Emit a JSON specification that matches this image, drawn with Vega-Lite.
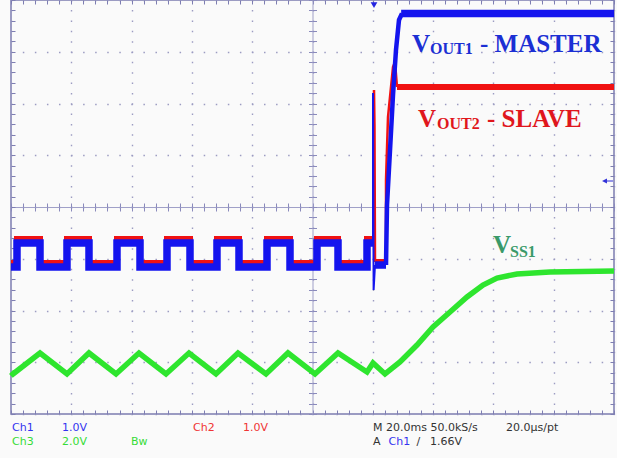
{
  "$schema": "https://vega.github.io/schema/vega-lite/v6.json",
  "width": 603,
  "height": 414,
  "autosize": {"type": "none"},
  "padding": {"left": 11, "top": 0, "right": 3, "bottom": 44},
  "background": "#fafafa",
  "config": {
    "view": {"stroke": "#7c7cb0", "strokeWidth": 1.5, "fill": "#fafafa"},
    "axis": {"labels": false, "title": null, "domain": false, "ticks": false, "grid": false},
    "text": {"align": "left", "baseline": "alphabetic"}
  },
  "datasets": {
    "ch1": [
      {"t": 0, "v": -1.159, "part": "sq"},
      {"t": 1.99, "v": -1.159, "part": "sq"},
      {"t": 1.99, "v": -0.696, "part": "sq"},
      {"t": 9.62, "v": -0.696, "part": "sq"},
      {"t": 9.62, "v": -1.159, "part": "sq"},
      {"t": 18.57, "v": -1.159, "part": "sq"},
      {"t": 18.57, "v": -0.696, "part": "sq"},
      {"t": 25.87, "v": -0.696, "part": "sq"},
      {"t": 25.87, "v": -1.159, "part": "sq"},
      {"t": 35.16, "v": -1.159, "part": "sq"},
      {"t": 35.16, "v": -0.696, "part": "sq"},
      {"t": 42.79, "v": -0.696, "part": "sq"},
      {"t": 42.79, "v": -1.159, "part": "sq"},
      {"t": 51.74, "v": -1.159, "part": "sq"},
      {"t": 51.74, "v": -0.696, "part": "sq"},
      {"t": 59.37, "v": -0.696, "part": "sq"},
      {"t": 59.37, "v": -1.159, "part": "sq"},
      {"t": 68.32, "v": -1.159, "part": "sq"},
      {"t": 68.32, "v": -0.696, "part": "sq"},
      {"t": 75.62, "v": -0.696, "part": "sq"},
      {"t": 75.62, "v": -1.159, "part": "sq"},
      {"t": 84.91, "v": -1.159, "part": "sq"},
      {"t": 84.91, "v": -0.696, "part": "sq"},
      {"t": 92.54, "v": -0.696, "part": "sq"},
      {"t": 92.54, "v": -1.159, "part": "sq"},
      {"t": 101.49, "v": -1.159, "part": "sq"},
      {"t": 101.49, "v": -0.696, "part": "sq"},
      {"t": 108.46, "v": -0.696, "part": "sq"},
      {"t": 108.46, "v": -1.159, "part": "sq"},
      {"t": 118.08, "v": -1.159, "part": "sq"},
      {"t": 118.08, "v": -0.696, "part": "sq"},
      {"t": 120.07, "v": -0.696, "part": "sq"},
      {"t": 120.07, "v": -0.696, "part": "spike"},
      {"t": 120.07, "v": 2.203, "part": "spike"},
      {"t": 120.27, "v": -1.604, "part": "spike"},
      {"t": 120.73, "v": -1.121, "part": "spike"},
      {"t": 120.73, "v": -1.121, "part": "low"},
      {"t": 124.38, "v": -1.121, "part": "low"},
      {"t": 124.38, "v": -1.121, "part": "rise"},
      {"t": 124.71, "v": 0.039, "part": "rise"},
      {"t": 125.71, "v": 1.101, "part": "rise"},
      {"t": 126.7, "v": 2.164, "part": "rise"},
      {"t": 127.69, "v": 3.034, "part": "rise"},
      {"t": 128.69, "v": 3.614, "part": "rise"},
      {"t": 129.69, "v": 3.739, "part": "rise"},
      {"t": 129.4, "v": 3.739, "part": "hi"},
      {"t": 200, "v": 3.739, "part": "hi"}
    ],
    "ch2": [
      {"t": 0, "v": -1.082, "part": "sq"},
      {"t": 1.99, "v": -1.082, "part": "sq"},
      {"t": 1.99, "v": -0.618, "part": "sq"},
      {"t": 9.62, "v": -0.618, "part": "sq"},
      {"t": 9.62, "v": -1.082, "part": "sq"},
      {"t": 18.57, "v": -1.082, "part": "sq"},
      {"t": 18.57, "v": -0.618, "part": "sq"},
      {"t": 25.87, "v": -0.618, "part": "sq"},
      {"t": 25.87, "v": -1.082, "part": "sq"},
      {"t": 35.16, "v": -1.082, "part": "sq"},
      {"t": 35.16, "v": -0.618, "part": "sq"},
      {"t": 42.79, "v": -0.618, "part": "sq"},
      {"t": 42.79, "v": -1.082, "part": "sq"},
      {"t": 51.74, "v": -1.082, "part": "sq"},
      {"t": 51.74, "v": -0.618, "part": "sq"},
      {"t": 59.37, "v": -0.618, "part": "sq"},
      {"t": 59.37, "v": -1.082, "part": "sq"},
      {"t": 68.32, "v": -1.082, "part": "sq"},
      {"t": 68.32, "v": -0.618, "part": "sq"},
      {"t": 75.62, "v": -0.618, "part": "sq"},
      {"t": 75.62, "v": -1.082, "part": "sq"},
      {"t": 84.91, "v": -1.082, "part": "sq"},
      {"t": 84.91, "v": -0.618, "part": "sq"},
      {"t": 92.54, "v": -0.618, "part": "sq"},
      {"t": 92.54, "v": -1.082, "part": "sq"},
      {"t": 101.49, "v": -1.082, "part": "sq"},
      {"t": 101.49, "v": -0.618, "part": "sq"},
      {"t": 108.46, "v": -0.618, "part": "sq"},
      {"t": 108.46, "v": -1.082, "part": "sq"},
      {"t": 118.08, "v": -1.082, "part": "sq"},
      {"t": 118.08, "v": -0.618, "part": "sq"},
      {"t": 120.4, "v": -0.618, "part": "sq"},
      {"t": 120.4, "v": -0.618, "part": "spike"},
      {"t": 120.4, "v": 2.261, "part": "spike"},
      {"t": 120.56, "v": 1.585, "part": "spike"},
      {"t": 120.73, "v": -1.063, "part": "spike"},
      {"t": 120.73, "v": -1.063, "part": "low"},
      {"t": 124.38, "v": -1.063, "part": "low"},
      {"t": 124.38, "v": -1.063, "part": "rise"},
      {"t": 124.38, "v": 0.522, "part": "rise"},
      {"t": 125.04, "v": 1.739, "part": "rise"},
      {"t": 126.7, "v": 2.705, "part": "rise"},
      {"t": 127.36, "v": 2.802, "part": "rise"},
      {"t": 128.03, "v": 2.319, "part": "rise"},
      {"t": 128.03, "v": 2.319, "part": "hi"},
      {"t": 200, "v": 2.319, "part": "hi"}
    ],
    "ch3": [
      {"t": 0, "v": -3.188},
      {"t": 0.66, "v": -3.227},
      {"t": 9.62, "v": -2.821},
      {"t": 18.57, "v": -3.227},
      {"t": 25.87, "v": -2.821},
      {"t": 34.83, "v": -3.227},
      {"t": 42.45, "v": -2.821},
      {"t": 51.41, "v": -3.227},
      {"t": 59.04, "v": -2.821},
      {"t": 67.99, "v": -3.227},
      {"t": 75.29, "v": -2.821},
      {"t": 84.58, "v": -3.227},
      {"t": 91.87, "v": -2.821},
      {"t": 100.83, "v": -3.227},
      {"t": 108.46, "v": -2.821},
      {"t": 118.08, "v": -3.188},
      {"t": 120.07, "v": -3.014},
      {"t": 124.05, "v": -3.227},
      {"t": 129.02, "v": -2.995},
      {"t": 134.66, "v": -2.667},
      {"t": 139.97, "v": -2.319},
      {"t": 145.61, "v": -2.029},
      {"t": 151.24, "v": -1.739},
      {"t": 156.55, "v": -1.507},
      {"t": 161.19, "v": -1.372},
      {"t": 167.83, "v": -1.295},
      {"t": 178.77, "v": -1.256},
      {"t": 200, "v": -1.237}
    ],
    "big": [
      {"t": 133.0, "v": 2.995, "txt": "V", "c": "out1"},
      {"t": 155.55, "v": 2.995, "txt": "- MASTER", "c": "out1"},
      {"t": 134.99, "v": 1.546, "txt": "V", "c": "out2"},
      {"t": 157.87, "v": 1.546, "txt": "- SLAVE", "c": "out2"},
      {"t": 159.86, "v": -0.889, "txt": "V", "c": "ss1"}
    ],
    "sub": [
      {"t": 138.97, "v": 2.957, "txt": "OUT1", "c": "out1"},
      {"t": 141.29, "v": 1.507, "txt": "OUT2", "c": "out2"},
      {"t": 165.5, "v": -0.966, "txt": "SS1", "c": "ss1"}
    ],
    "info": [
      {"t": 0.33, "v": -4.329, "txt": "Ch1", "c": "b"},
      {"t": 16.92, "v": -4.329, "txt": "1.0V", "c": "b"},
      {"t": 60.36, "v": -4.329, "txt": "Ch2", "c": "r"},
      {"t": 76.95, "v": -4.329, "txt": "1.0V", "c": "r"},
      {"t": 120.07, "v": -4.329, "txt": "M 20.0ms 50.0kS/s", "c": "k"},
      {"t": 164.18, "v": -4.329, "txt": "20.0µs/pt", "c": "k"},
      {"t": 0.33, "v": -4.599, "txt": "Ch3", "c": "g"},
      {"t": 16.92, "v": -4.599, "txt": "2.0V", "c": "g"},
      {"t": 39.8, "v": -4.599, "txt": "Bw", "c": "g"},
      {"t": 120.07, "v": -4.599, "txt": "A", "c": "k"},
      {"t": 125.2, "v": -4.599, "txt": "Ch1", "c": "b"},
      {"t": 134.5, "v": -4.599, "txt": "/", "c": "k"},
      {"t": 139.0, "v": -4.599, "txt": "1.66V", "c": "k"}
    ]
  },
  "resolve": {"axis": {"x": "independent", "y": "independent"}, "scale": {"color": "independent"}},
  "layer": [
    {
      "data": {"name": "ch2"},
      "transform": [{"filter": {"field": "part", "oneOf": ["sq", "low", "hi"]}}],
      "mark": {"type": "line", "color": "#f01212", "strokeWidth": 6, "strokeJoin": "miter"},
      "encoding": {
        "x": {"field": "t", "type": "quantitative", "scale": {"domain": [0, 200], "nice": false, "zero": false},
              "axis": {"orient": "bottom", "grid": true, "values": [0, 20, 40, 60, 80, 100, 120, 140, 160, 180, 200], "gridColor": "#9c9cc2", "gridDash": [1.5, 8.85], "gridDashOffset": 0.75, "gridWidth": 1.4, "gridOpacity": 1}},
        "y": {"field": "v", "type": "quantitative", "scale": {"domain": [-4, 4], "nice": false, "zero": false},
              "axis": {"orient": "left", "grid": true, "values": [-4, -3, -2, -1, 0, 1, 2, 3, 4], "gridColor": "#9c9cc2", "gridDash": [1.5, 10.56], "gridDashOffset": 0.75, "gridWidth": 1.4, "gridOpacity": 1}},
        "detail": {"field": "part"},
        "order": {"value": null}
      }
    },
    {
      "data": {"name": "ch2"},
      "transform": [{"filter": {"field": "part", "oneOf": ["spike", "rise"]}}],
      "mark": {"type": "line", "color": "#f01212", "strokeWidth": 2.5},
      "encoding": {
        "x": {"field": "t", "type": "quantitative", "scale": {"domain": [0, 200], "nice": false, "zero": false},
              "axis": {"orient": "bottom", "ticks": true, "tickSize": -4, "tickColor": "#7e7eb2", "tickWidth": 1,
                       "values": [0,4,8,12,16,20,24,28,32,36,40,44,48,52,56,60,64,68,72,76,80,84,88,92,96,100,104,108,112,116,120,124,128,132,136,140,144,148,152,156,160,164,168,172,176,180,184,188,192,196,200]}},
        "y": {"field": "v", "type": "quantitative", "scale": {"domain": [-4, 4], "nice": false, "zero": false},
              "axis": {"orient": "left", "ticks": true, "tickSize": -4, "tickColor": "#7e7eb2", "tickWidth": 1,
                       "values": [-4,-3.8,-3.6,-3.4,-3.2,-3,-2.8,-2.6,-2.4,-2.2,-2,-1.8,-1.6,-1.4,-1.2,-1,-0.8,-0.6,-0.4,-0.2,0,0.2,0.4,0.6,0.8,1,1.2,1.4,1.6,1.8,2,2.2,2.4,2.6,2.8,3,3.2,3.4,3.6,3.8,4]}},
        "detail": {"field": "part"},
        "order": {"value": null}
      }
    },
    {
      "data": {"name": "ch1"},
      "transform": [{"filter": {"field": "part", "oneOf": ["sq", "low", "hi"]}}],
      "mark": {"type": "line", "color": "#1414ee", "strokeWidth": 7.5, "strokeJoin": "miter"},
      "encoding": {
        "x": {"field": "t", "type": "quantitative", "scale": {"domain": [0, 200], "nice": false, "zero": false},
              "axis": {"orient": "top", "ticks": true, "tickSize": -4, "tickColor": "#7e7eb2", "tickWidth": 1,
                       "values": [0,4,8,12,16,20,24,28,32,36,40,44,48,52,56,60,64,68,72,76,80,84,88,92,96,100,104,108,112,116,120,124,128,132,136,140,144,148,152,156,160,164,168,172,176,180,184,188,192,196,200]}},
        "y": {"field": "v", "type": "quantitative", "scale": {"domain": [-4, 4], "nice": false, "zero": false},
              "axis": {"orient": "right", "ticks": true, "tickSize": -4, "tickColor": "#7e7eb2", "tickWidth": 1,
                       "values": [-4,-3.8,-3.6,-3.4,-3.2,-3,-2.8,-2.6,-2.4,-2.2,-2,-1.8,-1.6,-1.4,-1.2,-1,-0.8,-0.6,-0.4,-0.2,0,0.2,0.4,0.6,0.8,1,1.2,1.4,1.6,1.8,2,2.2,2.4,2.6,2.8,3,3.2,3.4,3.6,3.8,4]}},
        "detail": {"field": "part"},
        "order": {"value": null}
      }
    },
    {
      "data": {"name": "ch1"},
      "transform": [{"filter": {"field": "part", "equal": "spike"}}],
      "mark": {"type": "line", "color": "#1414ee", "strokeWidth": 2},
      "encoding": {
        "x": {"field": "t", "type": "quantitative", "scale": {"domain": [0, 200], "nice": false, "zero": false},
              "axis": {"orient": "bottom", "offset": -207, "domain": true, "domainColor": "#a0a0c8", "domainWidth": 1, "ticks": true, "tickSize": 4, "tickColor": "#8a8abc", "tickWidth": 1,
                       "values": [0,4,8,12,16,20,24,28,32,36,40,44,48,52,56,60,64,68,72,76,80,84,88,92,96,100,104,108,112,116,120,124,128,132,136,140,144,148,152,156,160,164,168,172,176,180,184,188,192,196,200]}},
        "y": {"field": "v", "type": "quantitative", "scale": {"domain": [-4, 4], "nice": false, "zero": false},
              "axis": {"orient": "left", "offset": -301.5, "domain": true, "domainColor": "#a0a0c8", "domainWidth": 1, "ticks": true, "tickSize": 4, "tickColor": "#8a8abc", "tickWidth": 1,
                       "values": [-4,-3.8,-3.6,-3.4,-3.2,-3,-2.8,-2.6,-2.4,-2.2,-2,-1.8,-1.6,-1.4,-1.2,-1,-0.8,-0.6,-0.4,-0.2,0,0.2,0.4,0.6,0.8,1,1.2,1.4,1.6,1.8,2,2.2,2.4,2.6,2.8,3,3.2,3.4,3.6,3.8,4]}},
        "order": {"value": null}
      }
    },
    {
      "data": {"name": "ch1"},
      "transform": [{"filter": {"field": "part", "equal": "rise"}}],
      "mark": {"type": "line", "color": "#1414ee", "strokeWidth": 4.5},
      "encoding": {
        "x": {"field": "t", "type": "quantitative", "scale": {"domain": [0, 200], "nice": false, "zero": false},
              "axis": {"orient": "top", "offset": -207, "ticks": true, "tickSize": 4, "tickColor": "#8a8abc", "tickWidth": 1,
                       "values": [0,4,8,12,16,20,24,28,32,36,40,44,48,52,56,60,64,68,72,76,80,84,88,92,96,100,104,108,112,116,120,124,128,132,136,140,144,148,152,156,160,164,168,172,176,180,184,188,192,196,200]}},
        "y": {"field": "v", "type": "quantitative", "scale": {"domain": [-4, 4], "nice": false, "zero": false},
              "axis": {"orient": "right", "offset": -301.5, "ticks": true, "tickSize": 4, "tickColor": "#8a8abc", "tickWidth": 1,
                       "values": [-4,-3.8,-3.6,-3.4,-3.2,-3,-2.8,-2.6,-2.4,-2.2,-2,-1.8,-1.6,-1.4,-1.2,-1,-0.8,-0.6,-0.4,-0.2,0,0.2,0.4,0.6,0.8,1,1.2,1.4,1.6,1.8,2,2.2,2.4,2.6,2.8,3,3.2,3.4,3.6,3.8,4]}},
        "order": {"value": null}
      }
    },
    {
      "data": {"name": "ch3"},
      "mark": {"type": "line", "color": "#2ee52e", "strokeWidth": 5.5},
      "encoding": {
        "x": {"field": "t", "type": "quantitative", "scale": {"domain": [0, 200], "nice": false, "zero": false}, "axis": null},
        "y": {"field": "v", "type": "quantitative", "scale": {"domain": [-4, 4], "nice": false, "zero": false}, "axis": null},
        "order": {"value": null}
      }
    },
    {
      "data": {"values": [{"t": 120.4, "v": 3.9}]},
      "mark": {"type": "point", "shape": "triangle-down", "filled": true, "size": 45, "color": "#2424e0", "opacity": 1},
      "encoding": {
        "x": {"field": "t", "type": "quantitative", "scale": {"domain": [0, 200], "nice": false, "zero": false}, "axis": null},
        "y": {"field": "v", "type": "quantitative", "scale": {"domain": [-4, 4], "nice": false, "zero": false}, "axis": null}
      }
    },
    {
      "data": {"values": [{"t": 197.85, "v": 0.502}]},
      "mark": {"type": "point", "shape": "M -1 0 L -0.1 -0.45 L -0.1 0.45 Z M -0.1 -0.09 L 1 -0.09 L 1 0.09 L -0.1 0.09 Z", "filled": true, "size": 121, "color": "#3030d8", "opacity": 1},
      "encoding": {
        "x": {"field": "t", "type": "quantitative", "scale": {"domain": [0, 200], "nice": false, "zero": false}, "axis": null},
        "y": {"field": "v", "type": "quantitative", "scale": {"domain": [-4, 4], "nice": false, "zero": false}, "axis": null}
      }
    },
    {
      "data": {"name": "big"},
      "mark": {"type": "text", "font": "Liberation Serif", "fontWeight": "bold", "fontSize": 25, "align": "left", "baseline": "alphabetic"},
      "encoding": {
        "x": {"field": "t", "type": "quantitative", "scale": {"domain": [0, 200], "nice": false, "zero": false}, "axis": null},
        "y": {"field": "v", "type": "quantitative", "scale": {"domain": [-4, 4], "nice": false, "zero": false}, "axis": null},
        "text": {"field": "txt"},
        "color": {"field": "c", "type": "nominal", "scale": {"domain": ["out1", "out2", "ss1"], "range": ["#1b2fd4", "#e0161c", "#3a9a6a"]}, "legend": null}
      }
    },
    {
      "data": {"name": "sub"},
      "mark": {"type": "text", "font": "Liberation Serif", "fontWeight": "bold", "fontSize": 16, "align": "left", "baseline": "alphabetic"},
      "encoding": {
        "x": {"field": "t", "type": "quantitative", "scale": {"domain": [0, 200], "nice": false, "zero": false}, "axis": null},
        "y": {"field": "v", "type": "quantitative", "scale": {"domain": [-4, 4], "nice": false, "zero": false}, "axis": null},
        "text": {"field": "txt"},
        "color": {"field": "c", "type": "nominal", "scale": {"domain": ["out1", "out2", "ss1"], "range": ["#1b2fd4", "#e0161c", "#3a9a6a"]}, "legend": null}
      }
    },
    {
      "data": {"name": "info"},
      "mark": {"type": "text", "font": "DejaVu Sans", "fontSize": 11, "align": "left", "baseline": "alphabetic"},
      "encoding": {
        "x": {"field": "t", "type": "quantitative", "scale": {"domain": [0, 200], "nice": false, "zero": false}, "axis": null},
        "y": {"field": "v", "type": "quantitative", "scale": {"domain": [-4, 4], "nice": false, "zero": false}, "axis": null},
        "text": {"field": "txt"},
        "color": {"field": "c", "type": "nominal", "scale": {"domain": ["b", "r", "g", "k"], "range": ["#3434f0", "#f03434", "#36dc36", "#333333"]}, "legend": null}
      }
    }
  ]
}
